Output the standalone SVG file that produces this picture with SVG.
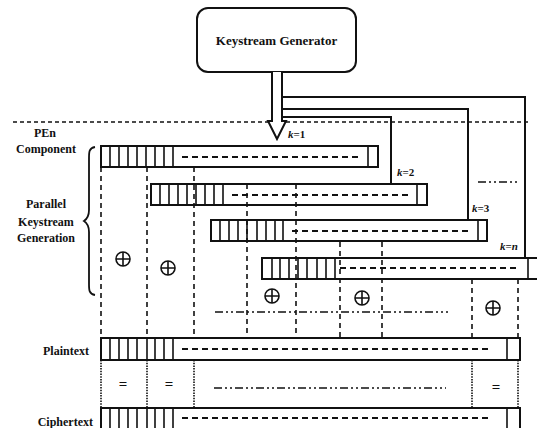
<svg xmlns="http://www.w3.org/2000/svg" xmlns:xlink="http://www.w3.org/1999/xlink" width="537" height="428" viewBox="0 0 537 428">
<style>
.lbl{font-family:"Liberation Serif","Times New Roman",serif;font-weight:bold;font-size:12px;fill:#111}
.klbl{font-family:"Liberation Serif","Times New Roman",serif;font-weight:bold;font-size:11px;fill:#111}
.bar{fill:#fff;stroke:#111;stroke-width:2}
.hatch{stroke:#111;stroke-width:1.6}
.inner{stroke:#111;stroke-width:1.8;stroke-dasharray:6 4}
.conn{fill:none;stroke:#111;stroke-width:2}
.vdash{stroke:#111;stroke-width:1.6;stroke-dasharray:5 4}
.vdot{stroke:#111;stroke-width:1.6;stroke-dasharray:1.5 1.2}
.dd{stroke:#111;stroke-width:1.6;stroke-dasharray:8 3 2 3 2 3}
.eq{font-family:"Liberation Serif",serif;font-weight:bold;font-size:15px;fill:#111}
</style>
<defs>
<g id="xor"><circle cx="0" cy="0" r="7" fill="#fff" stroke="#111" stroke-width="1.6"/><path d="M-7 0H7M0 -7V7" stroke="#111" stroke-width="1.6"/></g>
</defs>
<rect width="537" height="428" fill="#fff"/>

<g id="separator">
<line x1="13" y1="122" x2="530" y2="122" stroke="#111" stroke-width="1.6" stroke-dasharray="4 3"/>
</g>

<g id="keystream-generator">
<rect x="197" y="8" width="159" height="64" rx="11" fill="#fff" stroke="#111" stroke-width="2"/>
<text x="276.5" y="45" text-anchor="middle" class="lbl" style="font-size:13px">Keystream Generator</text>
<path d="M272 72V121H268L277 139L286 121H282V72" fill="#fff" stroke="#111" stroke-width="2" stroke-linejoin="miter"/>
</g>

<g id="labels">
<text x="45" y="137" text-anchor="middle" class="lbl">PEn</text>
<text x="46" y="153" text-anchor="middle" class="lbl">Component</text>
<text x="46" y="208" text-anchor="middle" class="lbl">Parallel</text>
<text x="46" y="226" text-anchor="middle" class="lbl">Keystream</text>
<text x="46" y="242" text-anchor="middle" class="lbl">Generation</text>
<path d="M95 147C89 148 89 152 89 158V210C89 216 87 219 84 221C87 223 89 226 89 232V284C89 290 89 294 95 295" fill="none" stroke="#111" stroke-width="1.8"/>
<text x="89" y="355" text-anchor="end" class="lbl">Plaintext</text>
<text x="93" y="426" text-anchor="end" class="lbl">Ciphertext</text>
</g>

<g id="bar-k1">
<rect class="bar" x="101" y="146" width="277" height="21"/>
<path class="hatch" d="M110 146V167M119 146V167M128 146V167M137 146V167M146 146V167M155 146V167M164 146V167M173 146V167M368 146V167"/>
<line class="inner" x1="182" y1="157" x2="362" y2="157"/>
<text x="288" y="138" class="klbl"><tspan font-style="italic">k</tspan>=1</text>
</g>

<g id="bar-k2">
<rect class="bar" x="151" y="184" width="276" height="21"/>
<path class="hatch" d="M160 184V205M169 184V205M178 184V205M187 184V205M196 184V205M205 184V205M214 184V205M223 184V205M417 184V205"/>
<line class="inner" x1="232" y1="195" x2="410" y2="195"/>
<text x="397" y="176" class="klbl"><tspan font-style="italic">k</tspan>=2</text>
</g>

<g id="bar-k3">
<rect class="bar" x="211" y="220" width="276" height="21"/>
<path class="hatch" d="M220 220V241M229 220V241M238 220V241M247 220V241M257 220V241M266 220V241M275 220V241M283 220V241M478 220V241"/>
<line class="inner" x1="292" y1="231" x2="468" y2="231"/>
<text x="472" y="212" class="klbl"><tspan font-style="italic">k</tspan>=3</text>
</g>

<g id="bar-kn">
<rect class="bar" x="262" y="258" width="280" height="21"/>
<path class="hatch" d="M272 258V279M280 258V279M289 258V279M298 258V279M307 258V279M317 258V279M326 258V279M335 258V279M528 258V279"/>
<line class="inner" x1="340" y1="268" x2="520" y2="268"/>
<text x="500" y="250" class="klbl"><tspan font-style="italic">k</tspan>=<tspan font-style="italic">n</tspan></text>
</g>

<g id="plaintext-bar">
<rect class="bar" x="101" y="338" width="419" height="22"/>
<path class="hatch" d="M110 338V360M119 338V360M128 338V360M137 338V360M147 338V360M155 338V360M164 338V360M173 338V360M507 338V360"/>
<line class="inner" x1="182" y1="349" x2="492" y2="349"/>
</g>

<g id="ciphertext-bar">
<rect class="bar" x="101" y="408" width="419" height="24"/>
<path class="hatch" d="M110 408V432M119 408V432M128 408V432M137 408V432M147 408V432M155 408V432M164 408V432M173 408V432M507 408V432"/>
<line class="inner" x1="182" y1="418" x2="492" y2="418"/>
</g>

<g id="connectors">
<polyline class="conn" points="282,97 525,97 525,258"/>
<polyline class="conn" points="282,109 468,109 468,220"/>
<polyline class="conn" points="282,117 391,117 391,184"/>
<line class="vdash" x1="101" y1="167" x2="101" y2="338"/>
<line class="vdash" x1="147" y1="167" x2="147" y2="338"/>
<line class="vdash" x1="194" y1="167" x2="194" y2="338"/>
<line class="vdash" x1="247" y1="184" x2="247" y2="338"/>
<line class="vdash" x1="296" y1="184" x2="296" y2="338"/>
<line class="vdash" x1="340" y1="242" x2="340" y2="338"/>
<line class="vdash" x1="382" y1="242" x2="382" y2="338"/>
<line class="vdash" x1="472" y1="279" x2="472" y2="338"/>
<line class="vdash" x1="518" y1="279" x2="518" y2="338"/>
<line class="dd" x1="215" y1="312" x2="448" y2="312"/>
<line class="dd" x1="478" y1="182" x2="519" y2="182"/>
<line class="vdot" x1="101" y1="360" x2="101" y2="408"/>
<line class="vdot" x1="147" y1="360" x2="147" y2="408"/>
<line class="vdot" x1="194" y1="360" x2="194" y2="408"/>
<line class="vdot" x1="472" y1="360" x2="472" y2="408"/>
<line class="vdot" x1="518" y1="360" x2="518" y2="408"/>
<line class="dd" x1="214" y1="388" x2="446" y2="388"/>
</g>

<g id="xor-ops">
<use xlink:href="#xor" x="123" y="259"/>
<use xlink:href="#xor" x="168" y="268"/>
<use xlink:href="#xor" x="272" y="296"/>
<use xlink:href="#xor" x="362" y="298"/>
<use xlink:href="#xor" x="493" y="308"/>
</g>

<g id="equals">
<text x="123" y="389" text-anchor="middle" class="eq">=</text>
<text x="169" y="389" text-anchor="middle" class="eq">=</text>
<text x="496" y="392" text-anchor="middle" class="eq">=</text>
</g>
</svg>
